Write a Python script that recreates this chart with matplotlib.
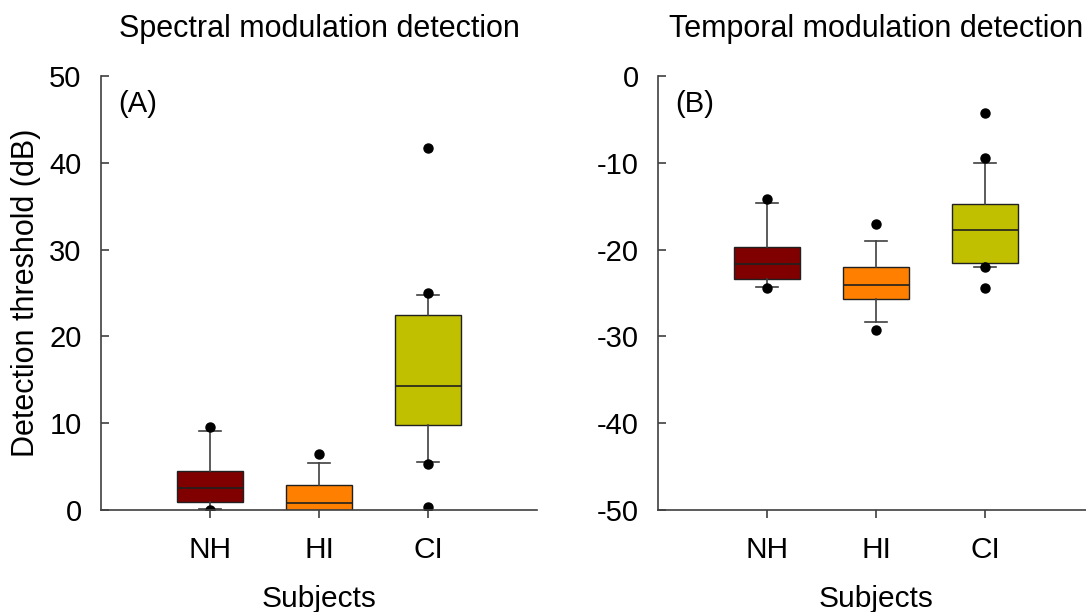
"""
Spectral and temporal modulation detection thresholds by subject group, drawn as box plots.
"""

import matplotlib
matplotlib.use("Agg")
import matplotlib.pyplot as plt

plt.rcParams["font.family"] = ["Liberation Sans", "DejaVu Sans"]
plt.rcParams["axes.unicode_minus"] = False

groups = ["NH", "HI", "CI"]
colors = ["#800000", "#ff8000", "#c0c000"]

# Spectral modulation detection (dB): box/whisker summaries
smd_med = [2.5, 0.8, 14.3]
smd_q1 = [0.9, 0.0, 9.8]
smd_q3 = [4.5, 2.85, 22.5]
smd_lo = [0.15, 0.0, 5.5]
smd_hi = [9.1, 5.45, 24.8]
smd_fliers = [[9.6, 0.05], [6.5], [41.7, 25.0, 5.3, 0.3]]

# Temporal modulation detection (dB)
tmd_med = [-21.7, -24.1, -17.8]
tmd_q1 = [-23.4, -25.7, -21.6]
tmd_q3 = [-19.7, -22.0, -14.8]
tmd_lo = [-24.3, -28.3, -22.0]
tmd_hi = [-14.6, -19.05, -10.05]
tmd_fliers = [[-14.2, -24.4], [-17.0, -29.3], [-4.3, -9.5, -22.0, -24.4]]


def make_stats(med, q1, q3, lo, hi, fliers):
    return [dict(med=m, q1=a, q3=b, whislo=l, whishi=h, fliers=f, label=g)
            for m, a, b, l, h, f, g in zip(med, q1, q3, lo, hi, fliers, groups)]


def draw_panel(ax, stats, ylim, yticks, title, tag):
    axis_col = "#404040"
    bp = ax.bxp(stats, positions=[1, 2, 3], widths=0.6, capwidths=0.2,
                patch_artist=True, showfliers=True,
                boxprops=dict(edgecolor="#202020", linewidth=1.0),
                medianprops=dict(color="#202020", linewidth=1.2),
                whiskerprops=dict(color=axis_col, linewidth=1.2),
                capprops=dict(color=axis_col, linewidth=1.2),
                flierprops=dict(marker="o", markerfacecolor="black",
                                markeredgecolor="black", markersize=6.5))
    for patch, c in zip(bp["boxes"], colors):
        patch.set_facecolor(c)
    for cap in bp["caps"]:
        cap.set_zorder(1)
    ax.set_xlim(0, 4)
    ax.set_ylim(*ylim)
    ax.set_yticks(yticks)
    ax.set_xticks([1, 2, 3])
    ax.set_xticklabels(groups)
    for side in ["top", "right"]:
        ax.spines[side].set_visible(False)
    for side in ["left", "bottom"]:
        ax.spines[side].set_color(axis_col)
        ax.spines[side].set_linewidth(1.2)
    ax.tick_params(axis="y", direction="in", length=6, width=1.2, color=axis_col,
                   labelsize=21, pad=14)
    ax.tick_params(axis="x", direction="out", length=6, width=1.2, color=axis_col,
                   labelsize=21.5, pad=13)
    ax.set_xlabel("Subjects", fontsize=21.5, labelpad=15)
    ax.set_title(title, fontsize=22, pad=28)
    ax.text(0.04, 0.935, tag, transform=ax.transAxes, fontsize=21,
            ha="left", va="center")


fig = plt.figure(figsize=(10.86, 6.12), dpi=100)
ax1 = fig.add_axes([0.093, 0.1667, 0.4015, 0.7092])
ax2 = fig.add_axes([0.6059, 0.1667, 0.4015, 0.7092])

draw_panel(ax1, make_stats(smd_med, smd_q1, smd_q3, smd_lo, smd_hi, smd_fliers),
           (0, 50), [0, 10, 20, 30, 40, 50], "Spectral modulation detection", "(A)")
draw_panel(ax2, make_stats(tmd_med, tmd_q1, tmd_q3, tmd_lo, tmd_hi, tmd_fliers),
           (-50, 0), [-50, -40, -30, -20, -10, 0], "Temporal modulation detection", "(B)")
ax1.set_ylabel("Detection threshold (dB)", fontsize=22, labelpad=6)

fig.savefig("out.png", dpi=100)
plt.close(fig)
